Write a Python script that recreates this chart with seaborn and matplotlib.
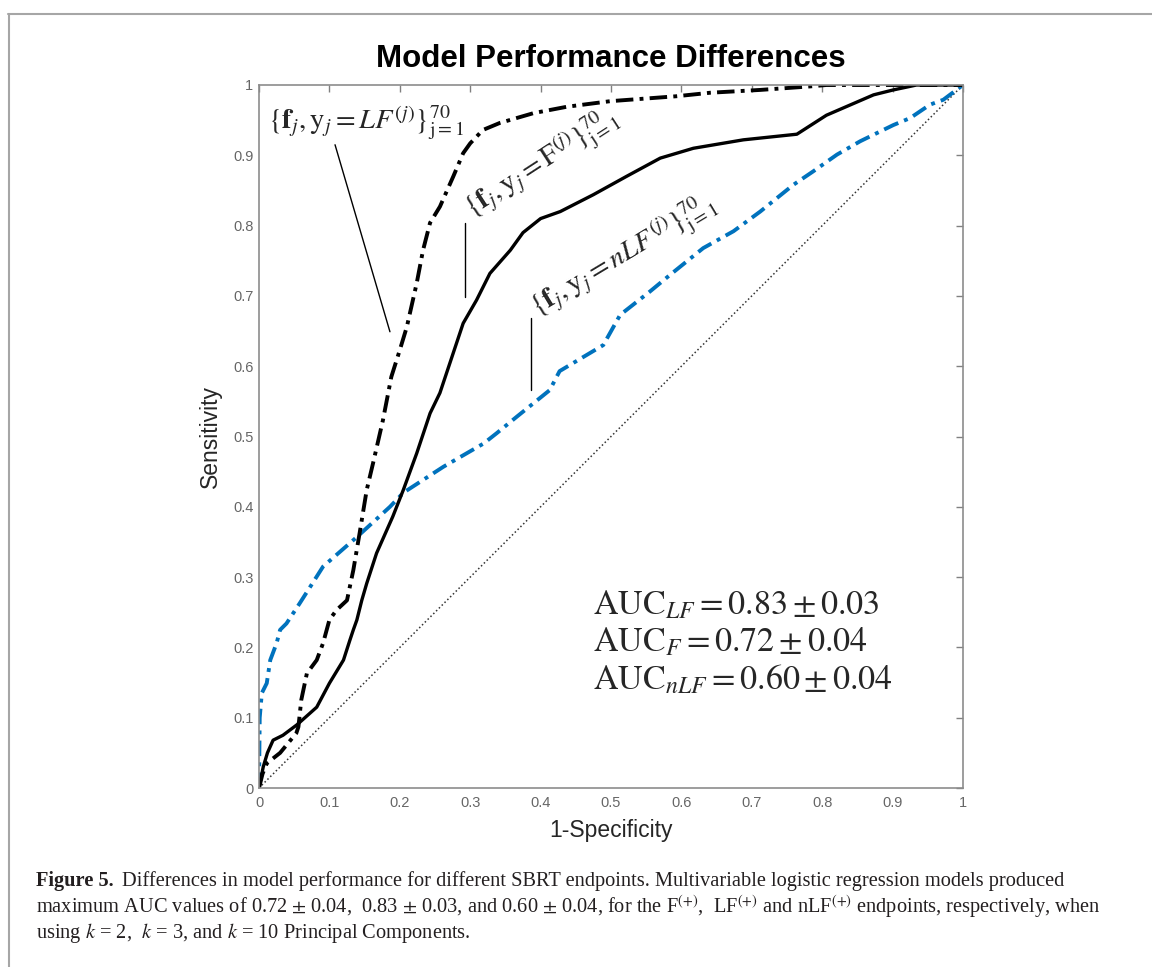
import numpy as np
import pandas as pd
import seaborn as sns
import matplotlib.pyplot as plt
from matplotlib.lines import Line2D

# ROC curves
fpr_lf = [0, 0.005, 0.011, 0.03, 0.053, 0.056, 0.06, 0.068, 0.082, 0.091, 0.1, 0.11,
          0.125, 0.134, 0.143, 0.153, 0.162, 0.176, 0.188, 0.2, 0.21, 0.224, 0.233,
          0.243, 0.257, 0.276, 0.29, 0.3, 0.318, 0.342, 0.39, 0.437, 0.499, 0.593,
          0.641, 0.712, 0.783, 0.806, 1.0]
tpr_lf = [0, 0.02, 0.035, 0.05, 0.078, 0.087, 0.125, 0.163, 0.182, 0.206, 0.239, 0.253,
          0.267, 0.31, 0.363, 0.424, 0.462, 0.523, 0.585, 0.623, 0.656, 0.718, 0.765,
          0.804, 0.827, 0.87, 0.903, 0.917, 0.936, 0.946, 0.96, 0.969, 0.977, 0.984,
          0.989, 0.993, 0.998, 1.0, 1.0]

fpr_f = [0, 0.003, 0.006, 0.012, 0.02, 0.034, 0.054, 0.082, 0.1, 0.12, 0.129, 0.134,
         0.139, 0.146, 0.153, 0.167, 0.19, 0.205, 0.224, 0.243, 0.257, 0.271, 0.29,
         0.309, 0.328, 0.357, 0.375, 0.4, 0.428, 0.475, 0.522, 0.57, 0.617, 0.688,
         0.764, 0.806, 0.873, 0.901, 0.934, 1.0]
tpr_f = [0, 0.015, 0.03, 0.05, 0.068, 0.075, 0.09, 0.115, 0.149, 0.182, 0.21, 0.225,
         0.239, 0.267, 0.291, 0.334, 0.386, 0.424, 0.476, 0.533, 0.562, 0.604, 0.661,
         0.694, 0.732, 0.765, 0.79, 0.81, 0.82, 0.844, 0.87, 0.896, 0.91, 0.922,
         0.93, 0.957, 0.986, 0.993, 1.0, 1.0]

fpr_nlf = [0, 0.001, 0.004, 0.011, 0.016, 0.025, 0.03, 0.039, 0.058, 0.072, 0.091,
           0.139, 0.186, 0.205, 0.262, 0.319, 0.338, 0.366, 0.413, 0.427, 0.489,
           0.513, 0.555, 0.584, 0.631, 0.674, 0.712, 0.759, 0.787, 0.821, 0.854,
           0.901, 0.925, 0.953, 0.972, 1.0]
tpr_nlf = [0, 0.1, 0.135, 0.149, 0.182, 0.206, 0.225, 0.234, 0.263, 0.285, 0.315,
           0.357, 0.40, 0.42, 0.457, 0.49, 0.505, 0.528, 0.566, 0.593, 0.63,
           0.673, 0.706, 0.73, 0.768, 0.792, 0.82, 0.858, 0.877, 0.901, 0.92,
           0.943, 0.953, 0.972, 0.979, 1.0]

chance = [0, 1]

tick_vals = [0, 0.1, 0.2, 0.3, 0.4, 0.5, 0.6, 0.7, 0.8, 0.9, 1]
tick_labels = ["0", "0.1", "0.2", "0.3", "0.4", "0.5", "0.6", "0.7", "0.8", "0.9", "1"]

auc_text = [r"$\mathrm{AUC}_{LF} = 0.83 \pm 0.03$",
            r"$\mathrm{AUC}_{F} = 0.72 \pm 0.04$",
            r"$\mathrm{AUC}_{nLF} = 0.60 \pm 0.04$"]

label_lf = r"$\{\mathbf{f}_j, \mathrm{y}_j = LF^{(j)}\}_{\mathrm{j=1}}^{70}$"
label_f = r"$\{\mathbf{f}_j, \mathrm{y}_j = \mathrm{F}^{(j)}\}_{\mathrm{j=1}}^{70}$"
label_nlf = r"$\{\mathbf{f}_j, \mathrm{y}_j = nLF^{(j)}\}_{\mathrm{j=1}}^{70}$"

caption_1 = "Differences in model performance for different SBRT endpoints. Multivariable logistic regression models produced"
caption_2 = (r"maximum AUC values of 0.72 $\pm$ 0.04,  0.83 $\pm$ 0.03, and 0.60 $\pm$ 0.04, for the "
             r"F$^{(+)}$,  LF$^{(+)}$ and nLF$^{(+)}$ endpoints, respectively, when")
caption_3 = r"using $k$ = 2,  $k$ = 3, and $k$ = 10 Principal Components."

# SECTION 1: style
sns.set_style("white")
plt.rcParams["font.family"] = ["Liberation Sans", "DejaVu Sans"]
plt.rcParams["mathtext.fontset"] = "stix"

fig = plt.figure(figsize=(11.52, 9.67), dpi=100)
ax = fig.add_axes([259 / 1152, 179 / 967, 704 / 1152, 703 / 967])

# SECTION 2: curves
df_lf = pd.DataFrame({"fpr": fpr_lf, "tpr": tpr_lf})
df_f = pd.DataFrame({"fpr": fpr_f, "tpr": tpr_f})
df_nlf = pd.DataFrame({"fpr": fpr_nlf, "tpr": tpr_nlf})

sns.lineplot(x=chance, y=chance, ax=ax, color="#333333", lw=1.1,
             linestyle=(0, (1, 1.6)))
sns.lineplot(data=df_nlf, x="fpr", y="tpr", ax=ax, sort=False, estimator=None,
             color="#0072BD", lw=2.8, linestyle=(0, (4.0, 1.6, 1.0, 1.6)))
sns.lineplot(data=df_f, x="fpr", y="tpr", ax=ax, sort=False, estimator=None,
             color="black", lw=2.4)
sns.lineplot(data=df_lf, x="fpr", y="tpr", ax=ax, sort=False, estimator=None,
             color="black", lw=2.8, linestyle=(0, (4.5, 1.6, 1.0, 1.6)))

# leader lines for the labels
ax.plot([0.108, 0.186], [0.915, 0.649], color="black", lw=1.0)
ax.plot([0.293, 0.293], [0.804, 0.698], color="black", lw=1.0)
ax.plot([0.386, 0.386], [0.669, 0.566], color="black", lw=1.0)

ax.text(0.013, 0.938, label_lf, fontsize=20.5, ha="left", va="baseline")
ax.text(0.302, 0.812, label_f, fontsize=20.5, ha="left", va="baseline",
        rotation=33, rotation_mode="anchor")
ax.text(0.395, 0.672, label_nlf, fontsize=20.5, ha="left", va="baseline",
        rotation=31, rotation_mode="anchor")

for i, t in enumerate(auc_text):
    ax.text(0.474, 0.26 - i * 0.053, t, fontsize=24.5, ha="left", va="center")

# SECTION 3: axes
ax.set_xlim(0, 1)
ax.set_ylim(0, 1)
ax.set_xticks(tick_vals)
ax.set_xticklabels(tick_labels)
ax.set_yticks(tick_vals)
ax.set_yticklabels(tick_labels)
ax.tick_params(direction="in", length=5, width=1, color="#808080",
               labelcolor="#666666", labelsize=10.5, top=True, right=True)
ax.tick_params(axis="x", pad=6)
ax.tick_params(axis="y", pad=4)
for s in ax.spines.values():
    s.set_visible(True)
    s.set_color("#8c8c8c")
    s.set_linewidth(1.2)

ax.set_xlabel("1-Specificity", fontsize=16.5, color="#262626", labelpad=6)
ax.set_ylabel("Sensitivity", fontsize=16.5, color="#262626", labelpad=8)
ax.set_title("Model Performance Differences", fontsize=22.5, fontweight="bold",
             color="black", pad=13)

# SECTION 4: page frame and caption
fig.add_artist(Line2D([8.5 / 1152, 8.5 / 1152], [0, 1 - 13.5 / 967],
                      color="#a6a6a6", lw=1.5, transform=fig.transFigure))
fig.add_artist(Line2D([8 / 1152, 1], [1 - 13.5 / 967, 1 - 13.5 / 967],
                      color="#a6a6a6", lw=1.5, transform=fig.transFigure))

cap_kw = dict(fontsize=14.7, family=["Liberation Serif", "DejaVu Serif"],
              color="#231f20", ha="left", va="center")
x0 = 36 / 1152
fig_lab = fig.text(x0, 1 - 881 / 967, "Figure 5.", fontweight="bold", **cap_kw)
fig.canvas.draw()
bb = fig_lab.get_window_extent(renderer=fig.canvas.get_renderer())
fig.text(bb.x1 / 1152 + 8 / 1152, 1 - 881 / 967, caption_1, **cap_kw)
fig.text(x0, 1 - 907 / 967, caption_2, **cap_kw)
fig.text(x0, 1 - 933 / 967, caption_3, **cap_kw)

fig.savefig("out.png", dpi=100)
